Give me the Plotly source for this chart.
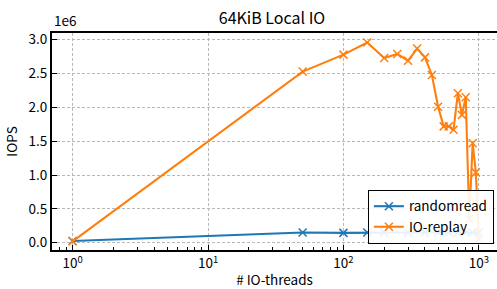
import plotly.graph_objects as go

# ---- data ----
threads_io = [1, 50, 100, 150, 200, 250, 300, 350, 400, 450, 500, 550, 600, 650, 700, 750, 800, 850, 900, 950, 1000]
iops_io = [0.02e6, 2.53e6, 2.78e6, 2.96e6, 2.73e6, 2.79e6, 2.69e6, 2.87e6, 2.74e6, 2.48e6, 2.01e6,
           1.72e6, 1.72e6, 1.67e6, 2.21e6, 1.89e6, 2.15e6, 0.35e6, 1.47e6, 1.04e6, 0.05e6]
threads_rr = [1, 50, 100, 150, 200, 300, 400, 500, 600, 700, 800, 900, 1000]
iops_rr = [0.025e6, 0.15e6, 0.145e6, 0.15e6, 0.15e6, 0.15e6, 0.15e6, 0.15e6, 0.15e6, 0.15e6, 0.15e6, 0.15e6, 0.15e6]

xtick_vals = [1, 10, 100, 1000]
xtick_text = ["10<sup>0</sup>", "10<sup>1</sup>", "10<sup>2</sup>", "10<sup>3</sup>"]
ytick_vals = [0, 0.5e6, 1.0e6, 1.5e6, 2.0e6, 2.5e6, 3.0e6]
ytick_text = ["0.0", "0.5", "1.0", "1.5", "2.0", "2.5", "3.0"]

FONT = "Noto Sans CJK JP, Noto Sans, DejaVu Sans, sans-serif"
BLUE = "#1f77b4"
ORANGE = "#ff7f0e"

minor_vals = [m * 10 ** e for e in range(-1, 4) for m in range(2, 10)]

fig = go.Figure()
fig.add_trace(go.Scatter(
    x=threads_rr, y=iops_rr, name="randomread", mode="lines+markers",
    line=dict(color=BLUE, width=2.1),
    marker=dict(symbol="x-thin", size=8, color=BLUE, line=dict(color=BLUE, width=1.5)),
))
fig.add_trace(go.Scatter(
    x=threads_io, y=iops_io, name="IO-replay", mode="lines+markers",
    line=dict(color=ORANGE, width=2.1),
    marker=dict(symbol="x-thin", size=8, color=ORANGE, line=dict(color=ORANGE, width=1.5)),
))

fig.update_layout(
    width=497, height=289,
    margin=dict(l=52, r=0, t=33, b=39),
    paper_bgcolor="white", plot_bgcolor="white",
    font=dict(family=FONT, size=13.5, color="black"),
    title=dict(text="64KiB Local IO", x=272 / 497, xanchor="center",
               y=1 - 18 / 289, yanchor="middle", yref="container",
               font=dict(size=16, family=FONT, color="black")),
    showlegend=True,
    legend=dict(x=0.993, xanchor="right", y=0.028, yanchor="bottom",
                bgcolor="rgba(255,255,255,0.9)", bordercolor="black", borderwidth=1,
                font=dict(size=13.5, family=FONT), tracegroupgap=0, itemwidth=30),
)

fig.update_xaxes(
    type="log", range=[-0.152, 3.134],
    tickvals=xtick_vals, ticktext=xtick_text,
    ticks="inside", ticklen=5, tickwidth=1.2, tickcolor="black",
    showline=True, linecolor="black", linewidth=2, mirror=True,
    showgrid=True, gridcolor="#b8b8b8", gridwidth=0.8, griddash="3px,2px",
    zeroline=False,
    minor=dict(tickvals=minor_vals, ticks="inside", ticklen=3, tickwidth=1, tickcolor="black", showgrid=False),
    title=dict(text="# IO-threads", standoff=6, font=dict(size=13.5)),
    tickfont=dict(size=13.5),
)
fig.update_yaxes(
    range=[-0.108e6, 3.1e6],
    tickvals=ytick_vals, ticktext=ytick_text,
    ticks="inside", ticklen=5, tickwidth=1.2, tickcolor="black",
    showline=True, linecolor="black", linewidth=2, mirror=False,
    showgrid=True, gridcolor="#b8b8b8", gridwidth=0.8, griddash="3px,2px",
    zeroline=False,
    title=dict(text="IOPS", standoff=8, font=dict(size=13.5)),
    tickfont=dict(size=13.5),
)

fig.add_annotation(text="1e6", xref="paper", yref="paper", x=0, y=1, xanchor="left", yanchor="bottom",
                   yshift=1, showarrow=False, font=dict(size=13.5, family=FONT))

fig.write_html("out.html", config={"displayModeBar": False},
               post_script="document.body.style.margin='0';document.body.style.padding='0';")
